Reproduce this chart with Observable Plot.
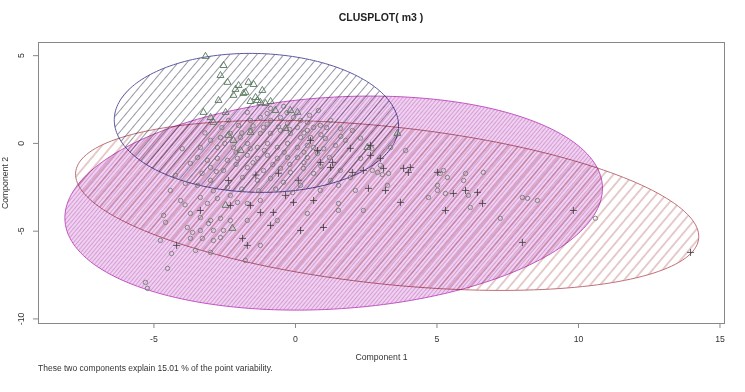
<!DOCTYPE html>
<html><head><meta charset="utf-8">
<script src="https://cdn.jsdelivr.net/npm/d3@7"></script>
<script src="https://cdn.jsdelivr.net/npm/@observablehq/plot@0.6"></script>
<style>
body{margin:0;background:#fff;font-family:"Liberation Sans",Arial,sans-serif;}
#wrap{position:relative;width:745px;height:392px;overflow:hidden;}
#title{position:absolute;left:0;width:762px;top:11px;text-align:center;font-weight:bold;font-size:10.5px;color:#222;}
#caption{position:absolute;left:38px;top:363px;font-size:8.5px;color:#333;white-space:nowrap;}
#chart{position:absolute;left:0;top:0;}
</style></head>
<body>
<div id="wrap">
<div id="chart"></div>
<div id="title">CLUSPLOT( m3 )</div>
<div id="caption">These two components explain 15.01 % of the point variability.</div>
</div>
<script>
const xTicks = [-5, 0, 5, 10, 15];
const yTicks = [-10, -5, 0, 5];
const xDomain = [-9.08, 15.16];
const yDomain = [-10.26, 5.75];

// cluster ellipses (order: red, magenta, blue)
const ellCx = [3.24, 1.35, -1.38];
const ellCy = [-3.53, -3.40, 1.17];
const ellA = [11.18, 9.56, 5.03];
const ellB = [4.44, 6.0, 3.95];
const ellPhi = [-10.9, 8.4, -5];

const triangles = [
[-3.18,4.96],[-2.54,4.44],[-2.65,3.87],[-2.40,3.48],[-2.01,3.30],[-2.12,3.08],[-1.66,3.48],[-1.48,3.36],
[-1.77,2.91],[-2.19,2.74],[-1.17,3.02],[-1.34,2.45],[-1.06,2.28],[-0.88,2.39],[-1.24,2.34],[-1.59,2.39],
[-3.25,1.77],[-2.47,1.77],[-3.00,1.48],[-2.90,1.20],[-0.18,1.88],[0.07,1.77],[-0.71,1.88],[-2.37,0.46],
[-2.19,0.17],[-1.59,0.63],[2.54,-0.23],[3.60,0.57],[-2.23,-4.84],[-1.84,2.85],[-1.41,2.62],[-2.72,2.45],
[-0.35,0.85],[-1.94,-0.40],[-2.47,-3.53]
];

const circles = [
[-1.70,1.77],[-1.59,1.31],[-1.24,1.48],[-1.13,0.91],[-0.88,1.31],[-0.53,1.48],[-0.28,1.14],[-0.07,1.48],
[0.07,0.91],[0.18,1.31],[0.42,1.20],[0.42,0.74],[0.64,0.91],[0.53,0.34],[0.18,0.34],[-0.18,0.57],
[-0.53,0.74],[-0.88,0.57],[-1.24,0.57],[-1.59,0.74],[-1.94,0.34],[-2.30,0.57],[-2.65,0.34],[-3.00,0.17],
[-3.36,-0.23],[-2.76,-0.23],[-2.19,-0.23],[-1.70,0.00],[-1.34,-0.23],[-0.99,0.00],[-0.64,-0.23],[-0.28,0.00],
[0.07,-0.23],[0.42,-0.11],[0.64,-0.23],[0.78,-0.57],[0.42,-0.80],[0.07,-0.80],[-0.28,-0.80],[-0.64,-0.85],
[-0.99,-0.68],[-1.34,-0.85],[-1.70,-0.68],[-2.05,-0.85],[-2.40,-0.97],[-2.76,-0.85],[-3.11,-0.97],[-3.46,-0.80],
[-3.71,-1.14],[0.88,1.03],[1.24,1.31],[1.59,0.85],[2.01,0.74],[1.06,0.28],[1.41,-0.11],[1.77,0.17],
[2.30,-0.85],[3.36,-0.23],[3.89,-0.40],[-2.01,1.03],[-2.37,1.31],[-0.88,1.99],[-0.42,2.11],[0.81,1.88],
[-3.00,-1.37],[-2.54,-1.54],[-1.70,-1.37],[-1.13,-1.54],[-0.53,-1.42],[-0.18,-1.65],[0.28,-1.42],[0.64,-1.71],
[-3.89,-2.28],[-3.46,-2.39],[-3.00,-2.11],[-1.87,-1.94],[-1.34,-2.11],[-0.88,-1.99],[-0.42,-2.22],[-3.36,-3.08],
[-3.11,-3.42],[-2.76,-3.13],[-2.30,-2.96],[-2.05,-3.36],[-1.70,-3.42],[-1.24,-3.25],[-3.71,-3.99],[-3.36,-4.22],
[-3.00,-4.39],[-2.65,-4.27],[-3.82,-4.79],[-3.36,-4.96],[-2.90,-4.96],[-2.54,-4.96],[-3.71,-5.41],[-3.29,-5.41],
[-2.90,-5.53],[-0.64,-4.39],[0.42,-3.99],[-4.42,-2.68],[-4.66,-4.10],[-4.59,-4.50],[-3.64,-5.07],[-2.65,-5.36],
[-2.30,-4.39],[-1.70,-4.39],[-3.07,-4.56],[-4.38,-6.27],[-4.52,-7.12],[-5.30,-7.92],[-5.23,-8.26],[-3.53,-6.10],
[-3.00,-6.21],[-4.06,-3.25],[-4.24,-1.82],[-4.77,-5.53],[1.52,-3.42],[1.52,-3.82],[2.40,-3.82],[3.25,-2.39],
[2.72,-1.54],[3.29,-1.71],[3.00,-1.25],[4.70,-3.08],[5.02,-2.68],[5.30,-2.85],[5.23,-1.54],[2.90,-1.65],
[3.07,-1.77],[1.59,-1.54],[1.94,-1.94],[1.52,-2.39],[5.02,-2.39],[5.12,-1.71],[5.37,-1.94],[6.01,-1.71],
[6.64,-1.65],[5.94,-2.11],[6.11,-2.96],[6.18,-3.65],[7.24,-4.27],[8.02,-3.08],[8.20,-3.13],[8.55,-3.25],
[10.60,-4.27],[0.88,-2.68],[1.24,-2.11],[2.12,-2.68],[0.18,-2.39],[-1.77,-6.67],[-1.24,-5.81],
[-1.50,1.00],[-1.00,1.10],[-0.60,0.95],[-0.20,0.80],[0.30,0.60],[0.90,0.50],[-1.90,0.60],[-2.50,0.00],
[-2.10,-0.50],[-1.60,-0.30],[-1.10,-0.40],[-0.40,-0.50],[0.30,-0.50],[1.00,-0.30],[1.20,-0.80],[0.90,-1.30],
[0.30,-1.10],[-0.20,-1.20],[-0.80,-1.20],[-1.50,-1.10],[-2.10,-1.20],[-2.80,-1.60],[-3.30,-1.70],[-2.40,-2.50],
[-1.90,-2.60],[-1.30,-2.70],[-0.70,-2.60],[-0.10,-2.80],[-2.90,-2.70],[-3.90,-3.50],[-1.00,1.70],[-0.30,1.75],
[0.50,1.60],[1.10,0.90],[1.60,0.40],[2.30,0.30],[2.70,-0.30],[-3.20,0.60],[-2.60,0.90],[-4.00,-0.30]
];

const pluses = [
[-2.37,-2.11],[-1.59,-3.53],[-3.36,-3.82],[-1.87,-5.41],[-1.70,-5.81],[-1.24,-3.93],[-0.78,-3.93],[-0.07,-3.36],
[0.64,-3.25],[1.31,-1.08],[1.94,-0.28],[2.65,-0.11],[2.65,-0.68],[3.11,-1.42],[3.82,-1.42],[2.58,-2.56],
[3.18,-2.68],[3.71,-3.36],[5.30,-3.82],[0.99,-4.79],[5.02,-1.65],[3.00,-0.85],[4.06,-1.37],[3.99,-1.65],
[2.01,-1.65],[2.40,-1.54],[1.24,-1.37],[0.88,-1.08],[5.58,-2.85],[6.01,-2.68],[6.43,-2.79],[6.61,-3.42],
[9.82,-3.82],[8.02,-5.64],[13.96,-6.21],[-4.20,-5.81],[0.78,-0.40],[0.53,0.17],[-0.35,-2.96],[0.18,-4.96],
[-0.88,-4.67],[-2.30,-3.53],[-0.60,-1.70],[0.10,-2.10],[-1.40,-1.80]
];

function ellipse(i) {
  const phi = ellPhi[i] * Math.PI / 180, c = Math.cos(phi), s = Math.sin(phi);
  return d3.range(200).map(k => {
    const t = 2 * Math.PI * k / 200;
    return {x: ellCx[i] + ellA[i] * Math.cos(t) * c - ellB[i] * Math.sin(t) * s,
            y: ellCy[i] + ellA[i] * Math.cos(t) * s + ellB[i] * Math.sin(t) * c};
  });
}

const svg = Plot.plot({
  width: 745, height: 392,
  marginLeft: 38, marginRight: 21, marginTop: 42, marginBottom: 69,
  style: {fontFamily: '"Liberation Sans", Arial, sans-serif', fontSize: "8.7px", color: "#333", background: "white"},
  x: {domain: xDomain, ticks: xTicks, tickSize: 5, tickPadding: 7, tickFormat: d => String(d), label: null},
  y: {domain: yDomain, ticks: yTicks, tickSize: 5, tickFormat: () => "", label: null},
  marks: [
    Plot.line(ellipse(1), {x: "x", y: "y", curve: "linear-closed", fill: "url(#hatchMag)", stroke: "#c555c5", strokeWidth: 1}),
    Plot.line(ellipse(0), {x: "x", y: "y", curve: "linear-closed", fill: "url(#hatchRed)", stroke: "#bf6f78", strokeWidth: 1, mixBlendMode: "multiply"}),
    Plot.line(ellipse(2), {x: "x", y: "y", curve: "linear-closed", fill: "url(#hatchBlue)", stroke: "#5a5aa0", strokeWidth: 1, mixBlendMode: "multiply"}),
    Plot.dot(circles, {x: d => d[0], y: d => d[1], symbol: "circle", r: 2.2, stroke: "#6f766f", fill: "none", strokeWidth: 0.8}),
    Plot.dot(triangles, {x: d => d[0], y: d => d[1], symbol: "triangle", r: 2.6, stroke: "#55785a", fill: "none", strokeWidth: 0.9}),
    Plot.dot(pluses, {x: d => d[0], y: d => d[1], symbol: "plus", r: 2.4, stroke: "#3a3a3a", fill: "none", strokeWidth: 0.8}),
    Plot.frame({stroke: "#888"}),
    Plot.text(yTicks, {y: d => d, text: d => String(d), frameAnchor: "left", textAnchor: "middle", dx: -17, rotate: -90, fill: "#333"}),
    Plot.text(["Component 1"], {text: d => d, frameAnchor: "bottom", dy: 36, fill: "#333"}),
    Plot.text(["Component 2"], {text: d => d, frameAnchor: "left", textAnchor: "middle", dx: -33, rotate: -90, fill: "#333"})
  ]
});

const defs = d3.select(svg).insert("defs", ":first-child");
function hatch(id, s, ang, bg, line, w) {
  const p = defs.append("pattern").attr("id", id).attr("patternUnits", "userSpaceOnUse")
    .attr("width", s).attr("height", s).attr("patternTransform", `rotate(${ang})`);
  if (bg) p.append("rect").attr("width", s).attr("height", s).attr("fill", bg);
  p.append("line").attr("x1", s / 2).attr("x2", s / 2).attr("y1", 0).attr("y2", s)
    .attr("stroke", line).attr("stroke-width", w);
}
hatch("hatchMag", 3, 40, "#efd2ef", "#d596d5", 0.9);
hatch("hatchRed", 7.6, 40, null, "#c98c8c", 0.9);
hatch("hatchBlue", 6.9, 40, null, "#8c8c9c", 0.9);

d3.select(svg).selectAll('[aria-label*="axis"]').style("color", "#888");
d3.select(svg).selectAll('[aria-label*="axis"] text').attr("fill", "#333");

document.getElementById("chart").appendChild(svg);
</script>
</body></html>
